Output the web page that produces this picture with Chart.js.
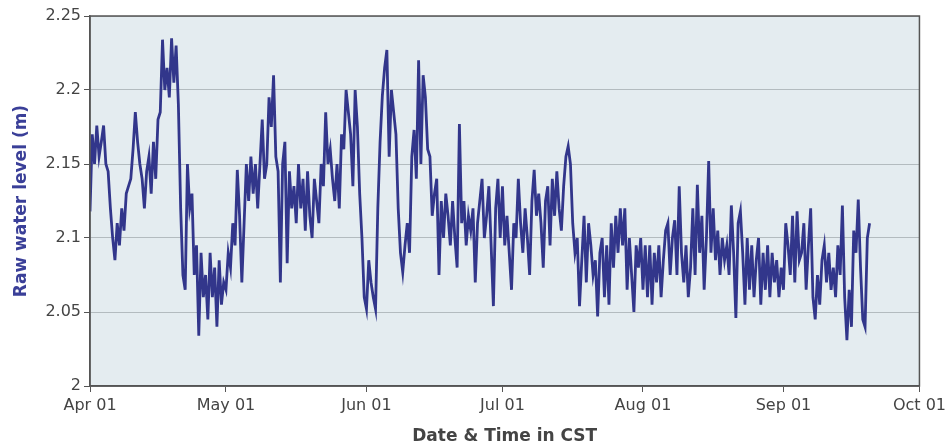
<html>
  <head>
    <style>
body {
  margin: 0;
  background: #fff;
}
#wrap {
  width: 950px;
  height: 448px;
}
    </style>
  </head>
  <body>
    <div id="wrap"><canvas id="chart" width="950" height="448"></canvas></div>
    <script src="https://cdn.jsdelivr.net/npm/chart.js"></script>
    <script>

// x axis: days since Apr 01, one reading every half day
const stepDays = 0.5
const tickDays = [0, 30, 61, 91, 122, 153, 183]
const tickLabels = ['Apr 01', 'May 01', 'Jun 01', 'Jul 01', 'Aug 01', 'Sep 01', 'Oct 01']
const yTickValues = [2, 2.05, 2.1, 2.15, 2.2, 2.25]
const yTickLabels = ['2', '2.05', '2.1', '2.15', '2.2', '2.25']

// raw water level (m)
const levels = [
  2.118, 2.170, 2.150, 2.176, 2.155, 2.165, 2.176, 2.150, 2.145, 2.120,
  2.100, 2.085, 2.110, 2.095, 2.120, 2.105, 2.130, 2.135, 2.140, 2.160,
  2.185, 2.165, 2.150, 2.140, 2.120, 2.145, 2.155, 2.130, 2.165, 2.140,
  2.180, 2.185, 2.234, 2.200, 2.215, 2.195, 2.235, 2.205, 2.230, 2.190,
  2.120, 2.075, 2.065, 2.150, 2.120, 2.130, 2.075, 2.095, 2.034, 2.090,
  2.060, 2.075, 2.045, 2.090, 2.060, 2.080, 2.040, 2.085, 2.055, 2.070,
  2.065, 2.090, 2.080, 2.110, 2.095, 2.146, 2.115, 2.070, 2.110, 2.150,
  2.125, 2.155, 2.130, 2.150, 2.120, 2.150, 2.180, 2.140, 2.150, 2.195,
  2.175, 2.210, 2.155, 2.145, 2.070, 2.150, 2.165, 2.083, 2.145, 2.120,
  2.135, 2.110, 2.150, 2.120, 2.140, 2.105, 2.145, 2.115, 2.100, 2.140,
  2.125, 2.110, 2.150, 2.135, 2.185, 2.150, 2.160, 2.140, 2.125, 2.150,
  2.120, 2.170, 2.160, 2.200, 2.185, 2.170, 2.135, 2.200, 2.175, 2.130,
  2.100, 2.060, 2.052, 2.085, 2.070, 2.060, 2.052, 2.120, 2.165, 2.196,
  2.215, 2.227, 2.155, 2.200, 2.185, 2.170, 2.120, 2.090, 2.077, 2.095,
  2.110, 2.090, 2.155, 2.173, 2.140, 2.220, 2.150, 2.210, 2.195, 2.160,
  2.155, 2.115, 2.130, 2.140, 2.075, 2.125, 2.100, 2.130, 2.115, 2.095,
  2.125, 2.100, 2.080, 2.177, 2.110, 2.125, 2.095, 2.115, 2.105, 2.120,
  2.070, 2.110, 2.125, 2.140, 2.100, 2.115, 2.135, 2.095, 2.054, 2.120,
  2.140, 2.100, 2.135, 2.095, 2.115, 2.090, 2.065, 2.110, 2.100, 2.140,
  2.110, 2.090, 2.120, 2.100, 2.075, 2.125, 2.146, 2.115, 2.130, 2.110,
  2.080, 2.125, 2.135, 2.095, 2.140, 2.115, 2.145, 2.120, 2.105, 2.135,
  2.155, 2.162, 2.150, 2.110, 2.090, 2.100, 2.054, 2.085, 2.115, 2.070,
  2.110, 2.095, 2.075, 2.085, 2.047, 2.090, 2.100, 2.060, 2.095, 2.055,
  2.110, 2.080, 2.115, 2.090, 2.120, 2.095, 2.120, 2.065, 2.100, 2.075,
  2.050, 2.095, 2.080, 2.100, 2.065, 2.095, 2.060, 2.095, 2.055, 2.090,
  2.070, 2.095, 2.060, 2.085, 2.105, 2.110, 2.075, 2.100, 2.112, 2.075,
  2.135, 2.090, 2.070, 2.095, 2.060, 2.080, 2.120, 2.075, 2.136, 2.090,
  2.115, 2.065, 2.100, 2.152, 2.090, 2.120, 2.085, 2.105, 2.075, 2.100,
  2.085, 2.095, 2.075, 2.122, 2.090, 2.046, 2.110, 2.118, 2.090, 2.055,
  2.100, 2.065, 2.095, 2.060, 2.085, 2.100, 2.055, 2.090, 2.065, 2.095,
  2.060, 2.090, 2.070, 2.085, 2.060, 2.080, 2.065, 2.110, 2.095, 2.075,
  2.115, 2.070, 2.118, 2.085, 2.090, 2.110, 2.065, 2.095, 2.120, 2.060,
  2.045, 2.075, 2.055, 2.085, 2.095, 2.070, 2.090, 2.065, 2.080, 2.060,
  2.095, 2.075, 2.122, 2.060, 2.031, 2.065, 2.040, 2.105, 2.090, 2.126,
  2.080, 2.045, 2.040, 2.100, 2.110
]

const plotBox = {
  id: 'plotBox',
  beforeDraw(chart) {
    const {ctx, chartArea: a} = chart
    ctx.save()
    ctx.fillStyle = '#e4ecf0'
    ctx.fillRect(a.left, a.top, a.right - a.left, a.bottom - a.top)
    ctx.restore()
  },
  afterDraw(chart) {
    const {ctx, chartArea: a} = chart
    ctx.save()
    ctx.strokeStyle = '#555'
    ctx.lineWidth = 1.5
    ctx.strokeRect(a.left, a.top, a.right - a.left, a.bottom - a.top)
    ctx.restore()
  }
}

const tickFont = {family: 'DejaVu Sans', size: 16}
const titleFont = {family: 'DejaVu Sans', size: 17, weight: 'bold'}

new Chart(document.getElementById('chart'), {
  type: 'line',
  data: {
    datasets: [{
      data: levels.map((v, i) => ({x: i * stepDays, y: v})),
      borderColor: '#32368b',
      borderWidth: 2.8,
      pointRadius: 0,
      tension: 0
    }]
  },
  options: {
    responsive: false,
    animation: false,
    layout: {padding: {top: 16, right: 29, left: 0, bottom: 0}},
    plugins: {legend: {display: false}, tooltip: {enabled: false}},
    scales: {
      x: {
        type: 'linear',
        min: 0,
        max: 183,
        afterBuildTicks: scale => { scale.ticks = tickDays.map(v => ({value: v})) },
        afterFit: scale => { scale.height = 62 },
        ticks: {
          callback: v => tickLabels[tickDays.indexOf(v)],
          font: tickFont,
          color: '#444',
          padding: 4,
          maxRotation: 0,
          autoSkip: false
        },
        grid: {drawOnChartArea: false, drawTicks: true, tickLength: 6, color: '#555'},
        border: {color: '#555', width: 1.5},
        title: {display: true, text: 'Date & Time in CST', font: titleFont, color: '#444', padding: {top: 0, bottom: 1}}
      },
      y: {
        min: 2,
        max: 2.25,
        afterBuildTicks: scale => { scale.ticks = yTickValues.map(v => ({value: v})) },
        afterFit: scale => { scale.width = 90 },
        ticks: {
          callback: v => yTickLabels[yTickValues.indexOf(v)],
          font: tickFont,
          color: '#444',
          padding: 3
        },
        grid: {
          color: '#b3bbbf',
          tickColor: '#555',
          tickLength: 6,
          lineWidth: 1
        },
        border: {color: '#555', width: 1.5},
        title: {display: true, text: 'Raw water level (m)', font: titleFont, color: '#3a3f98', padding: {top: 11, bottom: 0}}
      }
    }
  },
  plugins: [plotBox]
})
    </script>
  </body>
</html>
